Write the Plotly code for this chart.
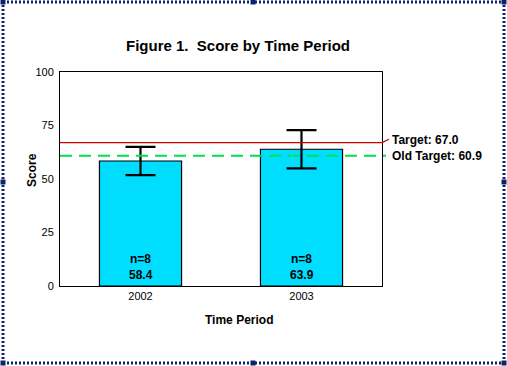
import plotly.graph_objects as go

periods = ["2002", "2003"]
scores = [58.4, 63.9]
errors = [6.6, 8.9]
n_counts = [8, 8]
target = 67.0
old_target = 60.9
y_ticks = [0, 25, 50, 75, 100]

FONT = "Arial, Liberation Sans, sans-serif"
W, H = 507, 366
L, R, T, B = 60, 125, 72, 80
PW, PH = W - L - R, H - T - B


def px(x):
    return (x - L) / PW


def py(y):
    return (H - B - y) / PH


fig = go.Figure()
fig.add_trace(go.Bar(
    x=periods, y=scores, width=0.51,
    marker=dict(color="#00DDFF", line=dict(color="black", width=1.2)),
    error_y=dict(type="data", array=errors, visible=True, color="black",
                 thickness=2.2, width=15),
    showlegend=False, hoverinfo="skip",
))

annotations = []
for i, (s, n) in enumerate(zip(scores, n_counts)):
    annotations.append(dict(x=i, y=0, xref="x", yref="y", text=f"n={n}",
                            showarrow=False, yshift=27,
                            font=dict(family=FONT, size=12, color="black", weight="bold")))
    annotations.append(dict(x=i, y=0, xref="x", yref="y", text=f"{s:.1f}",
                            showarrow=False, yshift=11,
                            font=dict(family=FONT, size=12, color="black", weight="bold")))

annotations += [
    dict(x=px(390), y=target, xref="paper", yref="y", text=f"Target: {target:.1f}",
         showarrow=False, xanchor="left", yshift=3,
         font=dict(family=FONT, size=12, color="black", weight="bold")),
    dict(x=px(390), y=old_target, xref="paper", yref="y", text=f"Old Target: {old_target:.1f}",
         showarrow=False, xanchor="left", yshift=0,
         font=dict(family=FONT, size=12, color="black", weight="bold")),
    dict(x=px(32), y=py(170), xref="paper", yref="paper", text="Score", textangle=-90,
         xanchor="center", yanchor="middle",
         showarrow=False, font=dict(family=FONT, size=12, color="black", weight="bold")),
    dict(x=px(239), y=py(320), xref="paper", yref="paper", text="Time Period",
         xanchor="center", yanchor="middle",
         showarrow=False, font=dict(family=FONT, size=12, color="black", weight="bold")),
    dict(x=px(238), y=py(45), xref="paper", yref="paper", text="Figure 1.  Score by Time Period",
         xanchor="center", yanchor="middle",
         showarrow=False, font=dict(family=FONT, size=15, color="black", weight="bold")),
]

shapes = [
    dict(type="line", xref="paper", yref="y", x0=0, x1=1, y0=target, y1=target,
         line=dict(color="#CC0000", width=1.2), layer="above"),
    dict(type="line", xref="paper", yref="y", x0=1, x1=px(389), y0=target, y1=target + 1.6,
         line=dict(color="#CC0000", width=1.2), layer="above"),
    dict(type="line", xref="paper", yref="y", x0=0, x1=px(386), y0=old_target, y1=old_target,
         line=dict(color="#00E050", width=2, dash="12px,7px"), layer="above"),
]

# outer selection frame (hatched border with handles)
navy = "#0A246A"
bx0, bx1, by0, by1 = px(3), px(504), py(363), py(2)
for (x0, y0, x1, y1) in [(bx0, by1, bx1, by1), (bx0, by0, bx1, by0),
                         (bx0, by0, bx0, by1), (bx1, by0, bx1, by1)]:
    shapes.append(dict(type="line", xref="paper", yref="paper", x0=x0, y0=y0, x1=x1, y1=y1,
                       line=dict(color=navy, width=3, dash="2px,2px")))
for hx in [3, 253, 504]:
    for hy in [2, 182, 363]:
        if hx == 253 and hy == 182:
            continue
        shapes.append(dict(type="rect", xref="paper", yref="paper",
                           x0=px(hx - 2.5), x1=px(hx + 2.5), y0=py(hy + 2.5), y1=py(hy - 2.5),
                           fillcolor=navy, line=dict(width=0)))

fig.update_layout(
    width=W, height=H,
    margin=dict(l=L, r=R, t=T, b=B),
    paper_bgcolor="white", plot_bgcolor="white",
    font=dict(family=FONT, size=11, color="black"),
    xaxis=dict(type="category", range=[-0.5, 1.5], showline=True, linecolor="black",
               linewidth=1, mirror=True, ticks="", showgrid=False,
               tickfont=dict(size=11)),
    yaxis=dict(range=[0, 100], tickvals=y_ticks, showline=True, linecolor="black",
               linewidth=1, mirror=True, ticks="", showgrid=False, zeroline=False,
               tickfont=dict(size=11), ticklabelstandoff=3),
    annotations=annotations,
    shapes=shapes,
    showlegend=False,
)

fig.write_html("out.html", config={"displayModeBar": False},
               post_script="document.body.style.margin='0';document.body.style.padding='0';")
